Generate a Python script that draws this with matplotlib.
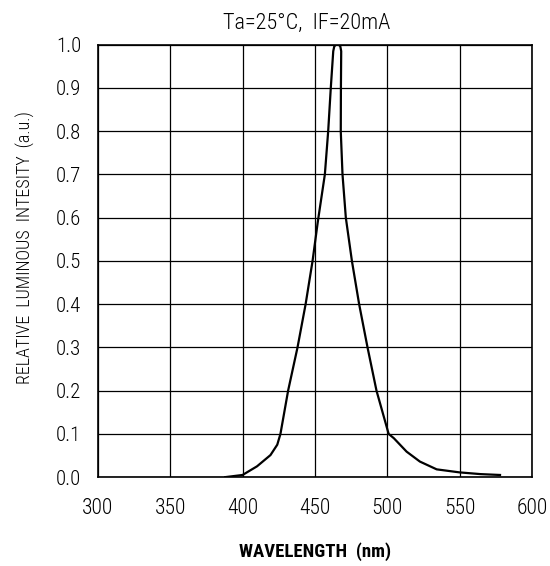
import matplotlib
matplotlib.use("Agg")
import matplotlib.pyplot as plt
from matplotlib import font_manager

# Spektrum
wavelength = [388, 400, 410, 419.3, 424, 426.2, 431.5, 438, 443.6, 448.4,
              452, 456.9, 459.2, 461, 462.7, 463.4, 464.5, 466.5, 467.6,
              468.2, 468.0, 467.9, 469.1, 471.4, 475.6, 480.6, 486.4,
              492.6, 501, 504.6, 513.4, 522.6, 534.2, 550, 564.5, 578]
intensity = [0.0, 0.005, 0.025, 0.051, 0.075, 0.1, 0.2, 0.3, 0.4, 0.5,
             0.59, 0.7, 0.8, 0.9, 0.985, 0.996, 1.0, 1.0, 0.996,
             0.985, 0.9, 0.8, 0.7, 0.6, 0.5, 0.4, 0.3,
             0.2, 0.1, 0.09, 0.059, 0.036, 0.018, 0.011, 0.007, 0.005]

x_ticks = [300, 350, 400, 450, 500, 550, 600]
y_ticks = [0.0, 0.1, 0.2, 0.3, 0.4, 0.5, 0.6, 0.7, 0.8, 0.9, 1.0]

# waski font, jesli jest
names = {f.name for f in font_manager.fontManager.ttflist}
narrow = [n for n in ['Roboto Condensed', 'Liberation Sans Narrow', 'DejaVu Sans Condensed'] if n in names]
plt.rcParams['font.family'] = narrow + ['DejaVu Sans']
plt.rcParams['font.stretch'] = 'condensed'

fig = plt.figure(figsize=(5.5, 5.66), dpi=100)
ax = fig.add_axes([0.178, 0.157, 0.789, 0.764])

ax.plot(wavelength, intensity, color='black', linewidth=1.6)

ax.set_xlim(300, 600)
ax.set_ylim(0, 1.0)
ax.set_xticks(x_ticks)
ax.set_yticks(y_ticks)
ax.set_yticklabels([f"{v:.1f}" for v in y_ticks])
ax.tick_params(length=0)
ax.tick_params(axis='x', pad=15, labelsize=15.5)
ax.tick_params(axis='y', pad=12, labelsize=15)
for lab in ax.get_xticklabels() + ax.get_yticklabels():
    lab.set_fontweight('light')
ax.grid(True, color='black', linewidth=0.9)
for s in ax.spines.values():
    s.set_linewidth(1.2)

ax.set_xlabel("WAVELENGTH  (nm)", fontsize=13.5, fontweight='bold', labelpad=17)
ax.set_ylabel("RELATIVE  LUMINOUS  INTESITY  (a.u.)", fontsize=13,
              fontweight='light')
ax.yaxis.set_label_coords(-0.145, 0.53)
ax.set_title("Ta=25°C,  IF=20mA", fontsize=16, fontweight='light', pad=11, x=0.481)

fig.savefig("out.png", dpi=100)
